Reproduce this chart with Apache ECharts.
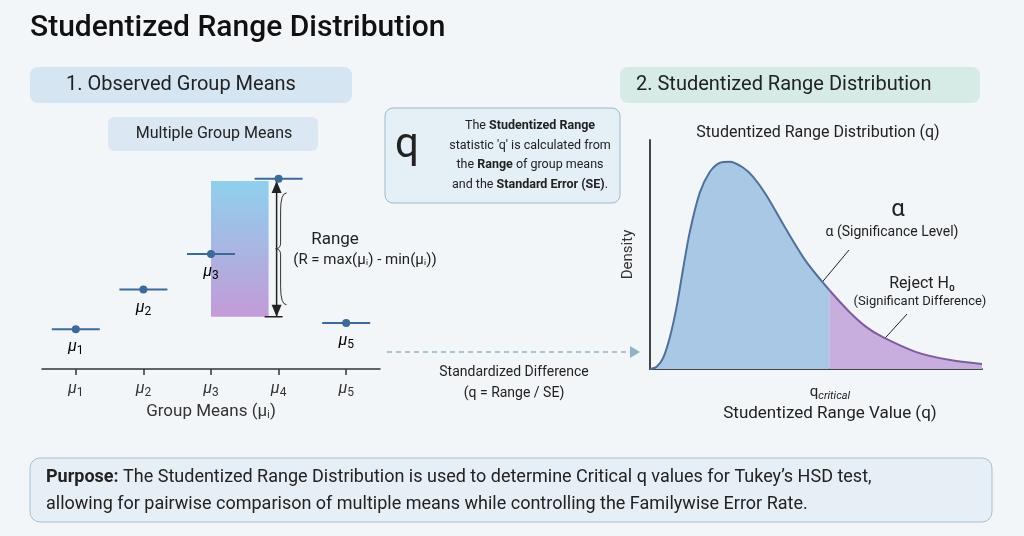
<!DOCTYPE html><html><head><meta charset="utf-8"><script src="https://cdn.jsdelivr.net/npm/echarts@6/dist/echarts.min.js"></script>
<style>html,body{margin:0;background:#f3f6f9}#c{width:1024px;height:536px}</style></head><body><div id="c"></div><script>
var groups=['μ1','μ2','μ3','μ4','μ5'];
var groupMeans=[1.9,3.8,5.5,9.1,2.2];
var rangeBox=[2.5,9.0];
var qValues=[0,0.2,0.4,0.6,0.8,1.0,1.2,1.5,1.8,2.1,2.4,2.8,3.1,3.5,4.1,4.7,5.4,6.0,6.5,7.0,8.0,9.0,10];
var density=[0,0.01,0.05,0.14,0.27,0.44,0.6,0.77,0.86,0.9,0.905,0.88,0.84,0.76,0.61,0.47,0.345,0.25,0.185,0.14,0.075,0.04,0.022];
var qCritical=5.4;
var F='Roboto, "Noto Sans", sans-serif';
var c=echarts.init(document.getElementById('c'));
var sub={m:{fontFamily:F,fontSize:16,fontStyle:'italic',color:'#333'},s:{fontFamily:F,fontSize:12,color:'#333',padding:[8,0,0,0]}};
function mu(n){return '{m|μ}{s|'+n+'}';}
var acc=[],rej=[];
qValues.forEach(function(q,i){if(q<=qCritical)acc.push([q,density[i]]);if(q>=qCritical)rej.push([q,density[i]]);});
function txt(x,y,t,o){return Object.assign({type:'text',x:x,y:y,style:Object.assign({text:t,fontFamily:F,fontSize:14,fill:'#222',align:'center',verticalAlign:'middle'},o||{})});}
c.setOption({
backgroundColor:'#f3f6f9',animation:false,
grid:[{left:42,width:338,top:160,height:209},{left:650,width:332,top:140,height:229}],
xAxis:[{type:'category',data:groups,gridIndex:0,axisLine:{lineStyle:{color:'#333',width:1.5}},axisTick:{show:true,alignWithLabel:true,length:6,lineStyle:{color:'#333',width:1.5}},
 axisLabel:{margin:10,formatter:function(v){return mu(v.slice(1));},rich:sub},
 name:'Group Means (μᵢ)',nameLocation:'middle',nameGap:34,nameTextStyle:{fontFamily:F,fontSize:17,color:'#333'}},
 {type:'value',gridIndex:1,min:0,max:10,axisLine:{lineStyle:{color:'#444',width:2}},axisTick:{show:false},axisLabel:{show:false},splitLine:{show:false}}],
yAxis:[{type:'value',gridIndex:0,min:0,max:10,show:false},
 {type:'value',gridIndex:1,min:0,max:1,axisLine:{show:true,lineStyle:{color:'#444',width:2}},axisTick:{show:false},axisLabel:{show:false},splitLine:{show:false},
 name:'Density',nameLocation:'middle',nameGap:14,nameTextStyle:{fontFamily:F,fontSize:15,color:'#333'}}],
series:[
{type:'custom',xAxisIndex:0,yAxisIndex:0,data:[[3,rangeBox[0],rangeBox[1]]],renderItem:function(p,api){
 var a=api.coord([2,api.value(2)]),b=api.coord([3,api.value(1)]);var x0=a[0],x1=b[0]-10;
 return {type:'group',children:[
 {type:'rect',shape:{x:x0,y:a[1],width:x1-x0,height:b[1]-a[1]},style:{fill:new echarts.graphic.LinearGradient(0,0,0,1,[{offset:0,color:'#8fd0ec'},{offset:1,color:'#c39bd8'}])}},
 {type:'line',shape:{x1:b[0]-2,y1:a[1],x2:b[0]-2,y2:b[1]},style:{stroke:'#222',lineWidth:1.5}},
 {type:'polygon',shape:{points:[[b[0]-2,a[1]],[b[0]-7,a[1]+12],[b[0]+3,a[1]+12]]},style:{fill:'#222'}},
 {type:'polygon',shape:{points:[[b[0]-2,b[1]],[b[0]-7,b[1]-12],[b[0]+3,b[1]-12]]},style:{fill:'#222'}},
 {type:'line',shape:{x1:b[0]-14,y1:b[1],x2:b[0]+4,y2:b[1]},style:{stroke:'#222',lineWidth:1.5}},
 {type:'path',shape:{pathData:'M'+(b[0]+8)+' '+(a[1]+12)+' Q'+(b[0]+2)+' '+(a[1]+12)+' '+(b[0]+2)+' '+(a[1]+30)+' L'+(b[0]+2)+' '+((a[1]+b[1])/2-6)+' Q'+(b[0]+2)+' '+((a[1]+b[1])/2)+' '+(b[0]-3)+' '+((a[1]+b[1])/2)+' Q'+(b[0]+2)+' '+((a[1]+b[1])/2)+' '+(b[0]+2)+' '+((a[1]+b[1])/2+6)+' L'+(b[0]+2)+' '+(b[1]-30)+' Q'+(b[0]+2)+' '+(b[1]-12)+' '+(b[0]+8)+' '+(b[1]-12)},style:{stroke:'#333',fill:null,lineWidth:1}}
 ]};}},
{type:'custom',xAxisIndex:0,yAxisIndex:0,data:groupMeans.map(function(v,i){return [i,v];}),renderItem:function(p,api){
 var pt=api.coord([api.value(0),api.value(1)]);var i=api.value(0);
 var ch=[{type:'line',shape:{x1:pt[0]-24,y1:pt[1],x2:pt[0]+24,y2:pt[1]},style:{stroke:'#3d6a98',lineWidth:2}},
 {type:'circle',shape:{cx:pt[0],cy:pt[1],r:4},style:{fill:'#3d6a98'}}];
 if(i!==3)ch.push({type:'text',x:pt[0],y:pt[1]+18,style:{text:mu(i+1),rich:sub,align:'center',verticalAlign:'middle'}});
 return {type:'group',children:ch};}},
{type:'line',xAxisIndex:1,yAxisIndex:1,data:acc,smooth:0.3,symbol:'none',lineStyle:{color:'#4f7199',width:2},areaStyle:{color:'#a9c8e6',opacity:1},z:3},
{type:'line',xAxisIndex:1,yAxisIndex:1,data:rej,smooth:0.3,symbol:'none',lineStyle:{color:'#7e5d9e',width:2},areaStyle:{color:'#c7aede',opacity:1},z:3,
 markLine:{symbol:'none',silent:true,label:{show:false},lineStyle:{color:'#6b4e8a',width:2,type:'solid'},data:[[{coord:[qCritical,-0.03]},{coord:[qCritical,density[16]]}]]}}
],
graphic:[
txt(30,28,'Studentized Range Distribution',{fontSize:30,fontWeight:500,align:'left',fill:'#111'}),
{type:'rect',shape:{x:30,y:67,width:322,height:36,r:8},style:{fill:'#d5e5f2'}},
txt(66,85,'1. Observed Group Means',{fontSize:20,align:'left'}),
{type:'rect',shape:{x:620,y:67,width:360,height:36,r:8},style:{fill:'#d6ebe6'}},
txt(636,85,'2. Studentized Range Distribution',{fontSize:20,align:'left'}),
{type:'rect',shape:{x:108,y:117,width:210,height:34,r:6},style:{fill:'#dbe7f2'}},
txt(214,134,'Multiple Group Means',{fontSize:16}),
txt(335,240,'Range',{fontSize:17}),
txt(365,260,'(R = max(μᵢ) - min(μᵢ))',{fontSize:15}),
{type:'rect',shape:{x:385,y:108,width:235,height:95,r:8},style:{fill:'#e5eff6',stroke:'#9db9cd',lineWidth:1}},
txt(407,146,'q',{fontSize:42,fill:'#222'}),
txt(530,126,'The {b|Studentized Range}',{fontSize:12.5,rich:{b:{fontFamily:F,fontSize:12.5,fontWeight:'bold'}}}),
txt(530,146,"statistic 'q' is calculated from",{fontSize:12.5}),
txt(530,165,'the {b|Range} of group means',{fontSize:12.5,rich:{b:{fontFamily:F,fontSize:12.5,fontWeight:'bold'}}}),
txt(530,185,'and the {b|Standard Error (SE)}.',{fontSize:12.5,rich:{b:{fontFamily:F,fontSize:12.5,fontWeight:'bold'}}}),
{type:'line',shape:{x1:387,y1:352,x2:630,y2:352},style:{stroke:'#8fb3c8',lineWidth:1.5,lineDash:[5,4]}},
{type:'polygon',shape:{points:[[640,352],[630,346],[630,358]]},style:{fill:'#8fb3c8'}},
txt(514,372,'Standardized Difference',{fontSize:14}),
txt(514,393,'(q = Range / SE)',{fontSize:14}),
txt(818,133,'Studentized Range Distribution (q)',{fontSize:16}),
txt(898,210,'α',{fontSize:24}),
txt(892,232,'α (Significance Level)',{fontSize:14}),
{type:'line',shape:{x1:814,y1:292,x2:849,y2:250},style:{stroke:'#222',lineWidth:1}},
txt(922,284,'Reject H₀',{fontSize:16}),
txt(920,302,'(Significant Difference)',{fontSize:13}),
{type:'line',shape:{x1:877,y1:347,x2:907,y2:314},style:{stroke:'#222',lineWidth:1}},
txt(830,392,'{q|q}{c|critical}',{rich:{q:{fontFamily:F,fontSize:15,color:'#222'},c:{fontFamily:F,fontSize:11,fontStyle:'italic',color:'#222',padding:[8,0,0,0]}}}),
txt(830,414,'Studentized Range Value (q)',{fontSize:17}),
{type:'rect',shape:{x:30,y:458,width:962,height:64,r:10},style:{fill:'#e7eff6',stroke:'#a8bfd0',lineWidth:1}},
txt(46,477,"{b|Purpose:} The Studentized Range Distribution is used to determine Critical q values for Tukey’s HSD test,",{fontSize:18,align:'left',rich:{b:{fontFamily:F,fontSize:18,fontWeight:'bold'}}}),
txt(46,504,'allowing for pairwise comparison of multiple means while controlling the Familywise Error Rate.',{fontSize:18,align:'left'})
]});
</script></body></html>
